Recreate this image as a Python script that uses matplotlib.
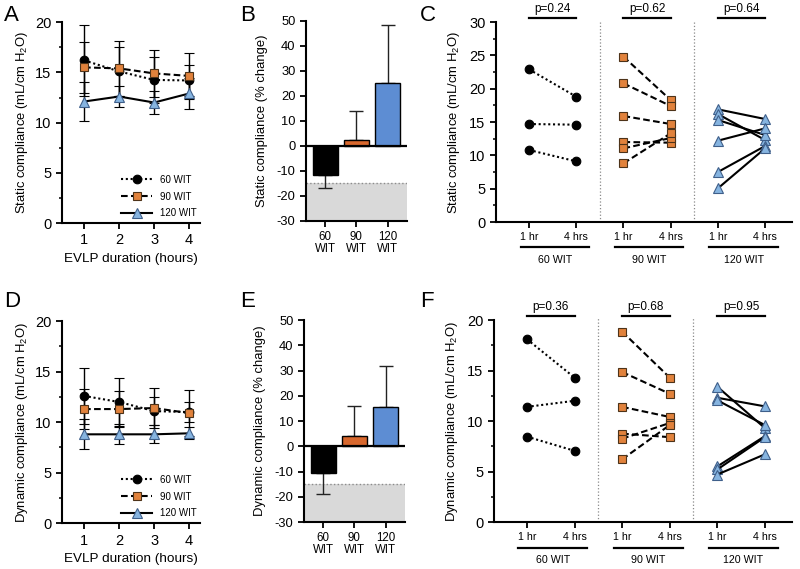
import matplotlib
matplotlib.use('Agg')
import matplotlib.pyplot as plt
import matplotlib.transforms as mtransforms
from matplotlib.ticker import MultipleLocator
from matplotlib.lines import Line2D

plt.rcParams['font.family'] = ['Liberation Sans', 'DejaVu Sans']
plt.rcParams['mathtext.fontset'] = 'custom'
plt.rcParams['mathtext.rm'] = 'Liberation Sans'
plt.rcParams['mathtext.it'] = 'Liberation Sans:italic'
plt.rcParams['axes.unicode_minus'] = False
plt.rcParams['axes.linewidth'] = 1.5

# ---- data ----
groups = ['60 WIT', '90 WIT', '120 WIT']
bar_labels = ['60\nWIT', '90\nWIT', '120\nWIT']
pair_labels = ['1 hr', '4 hrs']
hours = [1, 2, 3, 4]

# A: static compliance over time (mean, sd)
static_60 = [16.2, 15.1, 14.25, 14.2]
static_60_sd = [3.5, 2.4, 2.3, 1.5]
static_90 = [15.5, 15.4, 14.9, 14.65]
static_90_sd = [2.55, 2.7, 2.3, 2.3]
static_120 = [12.1, 12.6, 12.0, 12.9]
static_120_sd = [1.95, 1.0, 1.1, 1.5]

# D: dynamic compliance over time
dyn_60 = [12.6, 12.0, 11.1, 11.0]
dyn_60_sd = [2.8, 2.4, 1.4, 1.0]
dyn_90 = [11.3, 11.3, 11.4, 10.9]
dyn_90_sd = [2.0, 1.8, 2.0, 2.3]
dyn_120 = [8.8, 8.8, 8.8, 8.9]
dyn_120_sd = [1.5, 1.0, 0.9, 0.6]

# B / E: % change
static_pct = [-11.7, 2.5, 25.0]
static_pct_err = [5.3, 11.3, 23.5]
dyn_pct = [-10.6, 4.0, 15.5]
dyn_pct_err = [8.4, 12.0, 16.4]

# C: static compliance 1 hr vs 4 hrs per lung
c60_1h = [22.9, 14.7, 10.8]
c60_4h = [18.8, 14.6, 9.1]
c90_1h = [24.8, 20.8, 15.9, 12.0, 11.05, 8.8]
c90_4h = [18.3, 17.4, 14.7, 11.9, 12.6, 13.3]
c120_1h = [16.9, 16.2, 15.3, 12.2, 7.5, 5.05]
c120_4h = [15.45, 12.3, 13.05, 14.05, 11.4, 11.05]
static_p = ['p=0.24', 'p=0.62', 'p=0.64']

# F: dynamic compliance 1 hr vs 4 hrs per lung
f60_1h = [18.1, 11.4, 8.45]
f60_4h = [14.3, 12.0, 7.05]
f90_1h = [18.85, 14.85, 11.4, 8.75, 8.25, 6.2]
f90_4h = [14.3, 12.7, 10.4, 8.4, 9.8, 9.6]
f120_1h = [13.4, 12.3, 12.05, 5.5, 5.2, 4.7]
f120_4h = [9.3, 11.45, 9.6, 8.5, 8.4, 6.7]
dyn_p = ['p=0.36', 'p=0.68', 'p=0.95']

# ---- styles ----
orange = '#E1823C'
blue = '#86B4E0'
styles = [
    dict(ls=(0, (1, 1.3)), marker='o', ms=6.2, mfc='black', mec='black'),
    dict(ls=(0, (3.2, 1.6)), marker='s', ms=6, mfc=orange, mec='#4d3319'),
    dict(ls='-', marker='^', ms=6.5, mfc=blue, mec='#3F5F8A'),
]
bar_colors = ['black', '#D8682E', '#5D8DD3']


def clean(ax):
    ax.spines['top'].set_visible(False)
    ax.spines['right'].set_visible(False)
    ax.tick_params(width=1.3, length=4)
    ax.tick_params(which='minor', width=1.1, length=2.5)


def time_panel(ax, means, sds, ylabel):
    for m, s, st, g in zip(means, sds, styles, groups):
        ax.errorbar(hours, m, yerr=s, color='black', lw=1.5, ls=st['ls'],
                    marker=st['marker'], ms=st['ms'], mfc=st['mfc'],
                    mec=st['mec'], mew=0.8, ecolor='black', elinewidth=1,
                    capsize=3.5, capthick=1, label=g)
    ax.set_xlim(0.37, 4.31)
    ax.set_ylim(0, 20)
    ax.set_xticks(hours)
    ax.yaxis.set_major_locator(MultipleLocator(5))
    ax.yaxis.set_minor_locator(MultipleLocator(2.5))
    ax.tick_params(labelsize=10.5)
    ax.set_xlabel('EVLP duration (hours)', fontsize=9.7, labelpad=4)
    ax.set_ylabel(ylabel, fontsize=9.4, labelpad=4)
    handles = [Line2D([], [], color='black', lw=1.5, ls=st['ls'], marker=st['marker'],
                      ms=st['ms'], mfc=st['mfc'], mec=st['mec'], mew=0.8)
               for st in styles]
    ax.legend(handles, groups, loc='lower right', bbox_to_anchor=(1.04, -0.02),
              frameon=False, fontsize=7, handlelength=3.2, labelspacing=0.7,
              handletextpad=0.8)
    clean(ax)


def bar_panel(ax, vals, errs, ylabel):
    xs = range(len(vals))
    ax.axhspan(-30, -15, color='#D9D9D9', lw=0, zorder=0)
    ax.axhline(-15, color='#8C8C8C', ls=':', lw=1, zorder=1)
    ax.bar(xs, vals, width=0.8, color=bar_colors, edgecolor='black', lw=1, zorder=2)
    lower = [e if v < 0 else 0 for v, e in zip(vals, errs)]
    upper = [e if v >= 0 else 0 for v, e in zip(vals, errs)]
    ax.errorbar(xs, vals, yerr=[lower, upper], fmt='none', ecolor='#222222',
                elinewidth=1, capsize=5, capthick=1, zorder=1.5)
    ax.axhline(0, color='black', lw=1.6, zorder=3)
    ax.set_xlim(-0.62, 2.62)
    ax.set_ylim(-30, 50)
    ax.set_yticks(range(-30, 51, 10))
    ax.set_xticks(list(xs))
    ax.set_xticklabels(bar_labels, fontsize=8.3, linespacing=0.95)
    ax.tick_params(axis='y', labelsize=9.3)
    ax.set_ylabel(ylabel, fontsize=9.4, labelpad=6)
    clean(ax)


def paired_panel(ax, firsts, seconds, pvals, ymax, ylabel):
    for g, (a, b, st) in enumerate(zip(firsts, seconds, styles)):
        x0 = 2 * g
        for y1, y2 in zip(a, b):
            ax.plot([x0, x0 + 1], [y1, y2], color='black', lw=1.5, ls=st['ls'],
                    marker=st['marker'], ms=st['ms'], mfc=st['mfc'],
                    mec=st['mec'], mew=0.8, clip_on=False, zorder=3)
    trans = mtransforms.blended_transform_factory(ax.transData, ax.transAxes)
    for g, p in enumerate(pvals):
        x0 = 2 * g
        ax.plot([x0, x0 + 1], [1.02, 1.02], color='black', lw=1.6,
                transform=trans, clip_on=False)
        ax.text(x0 + 0.5, 1.035, p, transform=trans, ha='center', va='bottom',
                fontsize=8.5)
        ax.plot([x0 - 0.18, x0 + 1.27], [-0.127, -0.127], color='black', lw=1.6,
                transform=trans, clip_on=False)
        ax.text(x0 + 0.55, -0.19, groups[g], transform=trans, ha='center',
                va='center', fontsize=7.7)
    for xs in [1.5, 3.5]:
        ax.axvline(xs, ymin=0, ymax=1.01, color='#8A8A8A', ls=':', lw=0.9,
                   clip_on=False)
    ax.set_xlim(-0.7, 5.57)
    ax.set_ylim(0, ymax)
    ax.set_xticks(range(6))
    ax.set_xticklabels(pair_labels * 3, fontsize=7.7)
    ax.yaxis.set_major_locator(MultipleLocator(5))
    ax.yaxis.set_minor_locator(MultipleLocator(2.5))
    ax.tick_params(axis='y', labelsize=10.5)
    ax.tick_params(axis='x', pad=3)
    ax.set_ylabel(ylabel, fontsize=9.4, labelpad=5)
    clean(ax)


fig = plt.figure(figsize=(8, 5.69), dpi=100)
axA = fig.add_axes([0.0775, 0.608, 0.1725, 0.353])
axD = fig.add_axes([0.0775, 0.0805, 0.1725, 0.355])
axB = fig.add_axes([0.3825, 0.6116, 0.126, 0.3515])
axE = fig.add_axes([0.38, 0.0826, 0.126, 0.355])
axC = fig.add_axes([0.62, 0.6098, 0.37, 0.3515])
axF = fig.add_axes([0.617, 0.0826, 0.373, 0.355])

static_lab = r'Static compliance (mL/cm H$_2$O)'
dyn_lab = r'Dynamic compliance (mL/cm H$_2$O)'

time_panel(axA, [static_60, static_90, static_120],
           [static_60_sd, static_90_sd, static_120_sd], static_lab)
time_panel(axD, [dyn_60, dyn_90, dyn_120],
           [dyn_60_sd, dyn_90_sd, dyn_120_sd], dyn_lab)
bar_panel(axB, static_pct, static_pct_err, 'Static compliance (% change)')
bar_panel(axE, dyn_pct, dyn_pct_err, 'Dynamic compliance (% change)')
paired_panel(axC, [c60_1h, c90_1h, c120_1h], [c60_4h, c90_4h, c120_4h],
             static_p, 30, static_lab)
paired_panel(axF, [f60_1h, f90_1h, f120_1h], [f60_4h, f90_4h, f120_4h],
             dyn_p, 20, dyn_lab)

for lab, x, y in [('A', 4, 5), ('B', 240, 5), ('C', 420, 5),
                  ('D', 4, 291), ('E', 240, 291), ('F', 420, 291)]:
    fig.text(x / 800, 1 - y / 569, lab, fontsize=16, va='top', ha='left')

fig.savefig('out.png', dpi=100)
